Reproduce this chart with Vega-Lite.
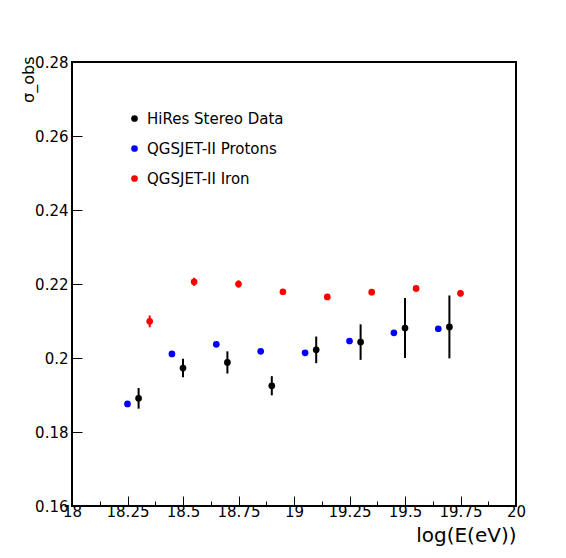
{
  "$schema": "https://vega.github.io/schema/vega-lite/v6.json",
  "width": 444,
  "height": 444,
  "autosize": "none",
  "padding": {"left": 72, "top": 62, "right": 50, "bottom": 52},
  "background": "white",
  "config": {
    "view": {"stroke": "black", "strokeWidth": 2},
    "font": "DejaVu Sans",
    "axis": {"domain": false, "grid": false, "tickColor": "black", "tickWidth": 1, "labelColor": "black", "titleColor": "black", "labelFont": "DejaVu Sans", "titleFont": "DejaVu Sans"}
  },
  "data": {
    "values": [
      {"series": "HiRes Stereo Data", "x": 18.3, "y": 0.1891, "lo": 0.1863, "hi": 0.1919},
      {"series": "HiRes Stereo Data", "x": 18.5, "y": 0.1973, "lo": 0.1948, "hi": 0.1998},
      {"series": "HiRes Stereo Data", "x": 18.7, "y": 0.1988, "lo": 0.1958, "hi": 0.2018},
      {"series": "HiRes Stereo Data", "x": 18.9, "y": 0.1925, "lo": 0.1899, "hi": 0.1951},
      {"series": "HiRes Stereo Data", "x": 19.1, "y": 0.2022, "lo": 0.1986, "hi": 0.2058},
      {"series": "HiRes Stereo Data", "x": 19.3, "y": 0.2043, "lo": 0.1995, "hi": 0.2091},
      {"series": "HiRes Stereo Data", "x": 19.5, "y": 0.2081, "lo": 0.2000, "hi": 0.2162},
      {"series": "HiRes Stereo Data", "x": 19.7, "y": 0.2084, "lo": 0.1999, "hi": 0.2169},
      {"series": "QGSJET-II Protons", "x": 18.25, "y": 0.1876, "lo": 0.1872, "hi": 0.1880},
      {"series": "QGSJET-II Protons", "x": 18.45, "y": 0.2011, "lo": 0.2007, "hi": 0.2015},
      {"series": "QGSJET-II Protons", "x": 18.65, "y": 0.2037, "lo": 0.2033, "hi": 0.2041},
      {"series": "QGSJET-II Protons", "x": 18.85, "y": 0.2018, "lo": 0.2014, "hi": 0.2022},
      {"series": "QGSJET-II Protons", "x": 19.05, "y": 0.2014, "lo": 0.2010, "hi": 0.2018},
      {"series": "QGSJET-II Protons", "x": 19.25, "y": 0.2046, "lo": 0.2042, "hi": 0.2050},
      {"series": "QGSJET-II Protons", "x": 19.45, "y": 0.2068, "lo": 0.2064, "hi": 0.2072},
      {"series": "QGSJET-II Protons", "x": 19.65, "y": 0.2079, "lo": 0.2075, "hi": 0.2083},
      {"series": "QGSJET-II Iron", "x": 18.35, "y": 0.2099, "lo": 0.2083, "hi": 0.2115},
      {"series": "QGSJET-II Iron", "x": 18.55, "y": 0.2206, "lo": 0.2195, "hi": 0.2217},
      {"series": "QGSJET-II Iron", "x": 18.75, "y": 0.2200, "lo": 0.2190, "hi": 0.2210},
      {"series": "QGSJET-II Iron", "x": 18.95, "y": 0.2179, "lo": 0.2172, "hi": 0.2186},
      {"series": "QGSJET-II Iron", "x": 19.15, "y": 0.2165, "lo": 0.2159, "hi": 0.2171},
      {"series": "QGSJET-II Iron", "x": 19.35, "y": 0.2178, "lo": 0.2172, "hi": 0.2184},
      {"series": "QGSJET-II Iron", "x": 19.55, "y": 0.2188, "lo": 0.2180, "hi": 0.2196},
      {"series": "QGSJET-II Iron", "x": 19.75, "y": 0.2175, "lo": 0.2166, "hi": 0.2184}
    ]
  },
  "encoding": {
    "x": {
      "field": "x",
      "type": "quantitative",
      "scale": {"domain": [18, 20], "nice": false, "zero": false},
      "axis": {
        "values": [18, 18.125, 18.25, 18.375, 18.5, 18.625, 18.75, 18.875, 19, 19.125, 19.25, 19.375, 19.5, 19.625, 19.75, 19.875, 20],
        "labelExpr": "round(datum.value*8)%2==0 ? format(datum.value, '~g') : ''",
        "tickSize": {"condition": {"test": "round(datum.value*8)%2==0", "value": -10}, "value": -5},
        "labelFontSize": 15,
        "labelPadding": 8,
        "labelFlush": false,
        "labelOverlap": false,
        "title": "log(E(eV))",
        "titleFontSize": 20,
        "titleFontWeight": "normal",
        "titleAnchor": "end",
        "titlePadding": 1
      }
    },
    "color": {
      "field": "series",
      "type": "nominal",
      "scale": {"domain": ["HiRes Stereo Data", "QGSJET-II Protons", "QGSJET-II Iron"], "range": ["#000000", "#0000ff", "#ff0000"]},
      "legend": {
        "title": null,
        "orient": "none",
        "legendX": 55,
        "legendY": 49,
        "padding": 0,
        "symbolType": "circle",
        "symbolSize": 45,
        "symbolStrokeWidth": 0,
        "symbolOpacity": 1,
        "labelFont": "DejaVu Sans",
        "labelFontSize": 15,
        "labelColor": "black",
        "labelOffset": 5,
        "rowPadding": 14
      }
    }
  },
  "layer": [
    {
      "mark": {"type": "rule", "strokeWidth": 2},
      "encoding": {
        "y": {"field": "lo", "type": "quantitative", "scale": {"domain": [0.16, 0.28], "nice": false, "zero": false}},
        "y2": {"field": "hi"}
      }
    },
    {
      "mark": {"type": "point", "filled": true, "size": 45, "opacity": 1, "shape": "circle"},
      "encoding": {
        "y": {
          "field": "y",
          "type": "quantitative",
          "scale": {"domain": [0.16, 0.28], "nice": false, "zero": false},
          "axis": {
            "values": [0.16, 0.165, 0.17, 0.175, 0.18, 0.185, 0.19, 0.195, 0.2, 0.205, 0.21, 0.215, 0.22, 0.225, 0.23, 0.235, 0.24, 0.245, 0.25, 0.255, 0.26, 0.265, 0.27, 0.275, 0.28],
            "labelExpr": "round(datum.value*1000)%20==0 ? format(datum.value, '~g') : ''",
            "tickSize": {"condition": {"test": "round(datum.value*1000)%20==0", "value": -10}, "value": -5},
            "labelFontSize": 15,
            "labelPadding": 14,
            "labelFlush": false,
            "labelOverlap": false,
            "title": "σ_obs",
            "titleFontSize": 16,
            "titleFontWeight": "normal",
            "titleAngle": -90,
            "titleAlign": "right",
            "titleBaseline": "middle",
            "titleX": -44,
            "titleY": -6
          }
        }
      }
    }
  ]
}
